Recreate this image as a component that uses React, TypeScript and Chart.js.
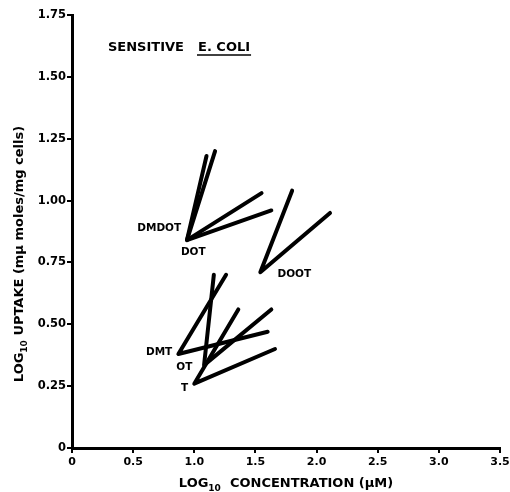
import React, { useEffect, useRef } from "react";
import { Chart, registerables } from "chart.js";

Chart.register(...registerables);

// Compounds (each drawn as a V: steep end -> vertex -> shallow end)
const compounds = ["DMDOT", "DOT", "DOOT", "DMT", "OT", "T"];
const vertexX = [0.94, 0.94, 1.54, 0.87, 1.08, 1.0];
const vertexY = [0.84, 0.84, 0.71, 0.38, 0.335, 0.26];
const steepEndX = [1.1, 1.17, 1.8, 1.26, 1.16, 1.36];
const steepEndY = [1.18, 1.2, 1.04, 0.7, 0.7, 0.56];
const shallowEndX = [1.55, 1.63, 2.11, 1.6, 1.63, 1.66];
const shallowEndY = [1.03, 0.96, 0.95, 0.47, 0.56, 0.4];

// Compound label anchor positions (data units)
const labelX = [0.893, 0.992, 1.68, 0.82, 0.918, 0.92];
const labelY = [0.887, 0.79, 0.703, 0.385, 0.327, 0.24];
const labelAlign = ["right", "center", "left", "right", "center", "center"];

const xTickLabels = ["0", "0.5", "1.0", "1.5", "2.0", "2.5", "3.0", "3.5"];
const yTickLabels = ["0", "0.25", "0.50", "0.75", "1.00", "1.25", "1.50", "1.75"];

const titleMain = "SENSITIVE";
const titleOrganism = "E. COLI";
const xTitleParts = [
  { text: "LOG", sub: false },
  { text: "10", sub: true },
  { text: "  CONCENTRATION (\u03bcM)", sub: false },
];
const yTitleParts = [
  { text: "LOG", sub: false },
  { text: "10", sub: true },
  { text: " UPTAKE (m\u03bc moles/mg cells)", sub: false },
];

const FAMILY = "'DejaVu Sans', 'Liberation Sans', sans-serif";

function drawParts(ctx: CanvasRenderingContext2D, parts: { text: string; sub: boolean }[], cx: number, cy: number, size: number) {
  const mainFont = `bold ${size}px ${FAMILY}`;
  const subFont = `bold ${Math.round(size * 0.7)}px ${FAMILY}`;
  let total = 0;
  const widths = parts.map((p) => {
    ctx.font = p.sub ? subFont : mainFont;
    const w = ctx.measureText(p.text).width;
    total += w;
    return w;
  });
  let x = cx - total / 2;
  ctx.textAlign = "left";
  ctx.textBaseline = "alphabetic";
  parts.forEach((p, i) => {
    ctx.font = p.sub ? subFont : mainFont;
    ctx.fillText(p.text, x, cy + (p.sub ? size * 0.3 : 0));
    x += widths[i];
  });
}

const textPlugin = {
  id: "textPlugin",
  afterDraw(chart: any) {
    const ctx: CanvasRenderingContext2D = chart.ctx;
    const xs = chart.scales.x;
    const ys = chart.scales.y;
    ctx.save();
    ctx.fillStyle = "#000";
    ctx.strokeStyle = "#000";

    // title
    ctx.font = `bold 13px ${FAMILY}`;
    ctx.textAlign = "left";
    ctx.textBaseline = "alphabetic";
    ctx.fillText(titleMain, 108, 51);
    const ox = 198;
    ctx.fillText(titleOrganism, ox, 51);
    const w = ctx.measureText(titleOrganism).width;
    ctx.lineWidth = 1.5;
    ctx.beginPath();
    ctx.moveTo(ox - 1, 55);
    ctx.lineTo(ox + w + 1, 55);
    ctx.stroke();

    // x title
    drawParts(ctx, xTitleParts, (xs.left + xs.right) / 2, 487, 13);

    // y title
    ctx.save();
    ctx.translate(23, 254);
    ctx.rotate(-Math.PI / 2);
    drawParts(ctx, yTitleParts, 0, 0, 13);
    ctx.restore();

    // compound labels
    ctx.font = `bold 10.5px ${FAMILY}`;
    ctx.textBaseline = "middle";
    compounds.forEach((c, i) => {
      ctx.textAlign = labelAlign[i] as CanvasTextAlign;
      ctx.fillText(c, xs.getPixelForValue(labelX[i]), ys.getPixelForValue(labelY[i]));
    });
    ctx.restore();
  },
};

export default function App() {
  const ref = useRef<HTMLCanvasElement>(null);
  useEffect(() => {
    if (!ref.current) return;
    const datasets = compounds.map((c, i) => ({
      label: c,
      data: [
        { x: steepEndX[i], y: steepEndY[i] },
        { x: vertexX[i], y: vertexY[i] },
        { x: shallowEndX[i], y: shallowEndY[i] },
      ],
      showLine: true,
      borderColor: "#000",
      backgroundColor: "#000",
      borderWidth: 4,
      borderCapStyle: "round" as const,
      borderJoinStyle: "round" as const,
      pointRadius: 0,
      tension: 0,
    }));
    const xTickFont = { family: FAMILY, size: 11, weight: "bold" as const };
    const yTickFont = { family: FAMILY, size: 11.5, weight: "bold" as const };
    const chart = new Chart(ref.current, {
      type: "scatter",
      data: { datasets },
      options: {
        animation: false,
        responsive: false,
        layout: { padding: { top: 15, right: 10, left: 0, bottom: 0 } },
        plugins: { legend: { display: false }, tooltip: { enabled: false } },
        scales: {
          x: {
            type: "linear",
            min: 0,
            max: 3.5,
            afterFit: (s: any) => {
              s.height = 44;
              s.paddingRight = 0;
              s.paddingLeft = 0;
            },
            ticks: {
              stepSize: 0.5,
              color: "#000",
              font: xTickFont,
              padding: 3,
              maxRotation: 0,
              callback: (_v: any, i: number) => xTickLabels[i],
            },
            grid: { drawOnChartArea: false, drawTicks: true, tickLength: 5, color: "#000", lineWidth: 2 },
            border: { display: true, color: "#000", width: 3 },
          },
          y: {
            type: "linear",
            min: 0,
            max: 1.75,
            afterFit: (s: any) => {
              s.width = 72;
              s.paddingTop = 0;
              s.paddingBottom = 0;
            },
            ticks: {
              stepSize: 0.25,
              color: "#000",
              font: yTickFont,
              padding: 1,
              callback: (_v: any, i: number) => yTickLabels[i],
            },
            grid: { drawOnChartArea: false, drawTicks: true, tickLength: 5, color: "#000", lineWidth: 2 },
            border: { display: true, color: "#000", width: 3 },
          },
        },
      },
      plugins: [textPlugin],
    });
    return () => chart.destroy();
  }, []);
  return (
    <div style={{ position: "absolute", left: 0, top: 0, width: 510, height: 492, background: "#fff" }}>
      <canvas ref={ref} width={510} height={492} />
    </div>
  );
}
